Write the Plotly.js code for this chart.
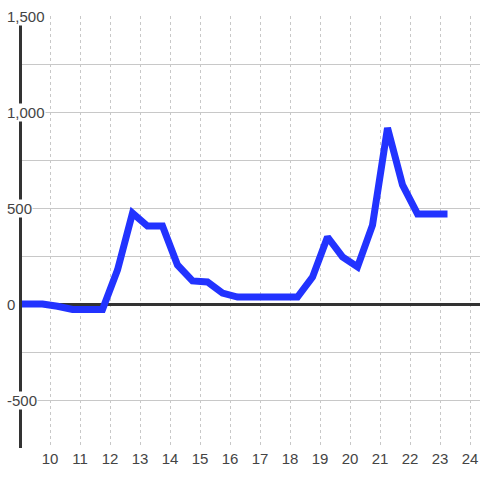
<!DOCTYPE html>
<html>
<head>
<meta charset="utf-8">
<script src="https://cdn.plot.ly/plotly-3.0.1.min.js"></script>
<style>html,body{margin:0;padding:0;background:#fff}#chart{width:480px;height:480px}</style>
</head>
<body>
<div id="chart"></div>
<script>
const hours = [8.75, 9.25, 9.75, 10.25, 10.75, 11.25, 11.75, 12.25, 12.75, 13.25, 13.75, 14.25, 14.75, 15.25, 15.75, 16.25, 16.75, 17.25, 17.75, 18.25, 18.75, 19.25, 19.75, 20.25, 20.75, 21.25, 21.75, 22.25, 22.75, 23.25];
const values = [0, 0, 0, -12, -28, -28, -28, 177, 474, 406, 406, 203, 120, 115, 57, 36, 36, 36, 36, 36, 140, 349, 245, 193, 411, 917, 620, 469, 469, 469];
const xTickVals = [10, 11, 12, 13, 14, 15, 16, 17, 18, 19, 20, 21, 22, 23, 24];
const yGridVals = [-750, -500, -250, 0, 250, 500, 750, 1000, 1250, 1500];
const yTickVals = [-500, 0, 500, 1000, 1500];
const yTickLabels = ['-500', '0', '500', '1,000', '1,500'];

const font = {family: 'Liberation Sans, Arial, sans-serif', size: 15, color: '#444'};

const annotations = yTickVals.map((v, i) => ({
  x: 0, xref: 'paper', y: v, yref: 'y',
  text: yTickLabels[i], showarrow: false,
  xanchor: 'left', yanchor: 'middle', xshift: -16,
  bgcolor: '#ffffff', borderpad: 0, font: font
}));

Plotly.newPlot('chart', [{
  x: hours, y: values, type: 'scatter', mode: 'lines',
  line: {color: '#2233ff', width: 7},
  hoverinfo: 'none', showlegend: false
}], {
  width: 480, height: 480,
  margin: {l: 22, r: 0, t: 16, b: 32},
  paper_bgcolor: '#ffffff', plot_bgcolor: '#ffffff',
  font: font,
  xaxis: {
    range: [9.0667, 24.333], tickmode: 'array', tickvals: xTickVals, ticktext: xTickVals.map(String),
    showgrid: true, gridcolor: '#c8c8c8', gridwidth: 1, griddash: 'dot',
    showline: false, zeroline: false, ticks: '', tickfont: font
  },
  yaxis: {
    range: [-750, 1500], tickmode: 'array', tickvals: yGridVals, showticklabels: false,
    showgrid: true, gridcolor: '#c8c8c8', gridwidth: 1,
    showline: true, linecolor: '#333', linewidth: 3,
    zeroline: true, zerolinecolor: '#333', zerolinewidth: 3, ticks: ''
  },
  annotations: annotations
}, {staticPlot: true});
</script>
</body>
</html>
